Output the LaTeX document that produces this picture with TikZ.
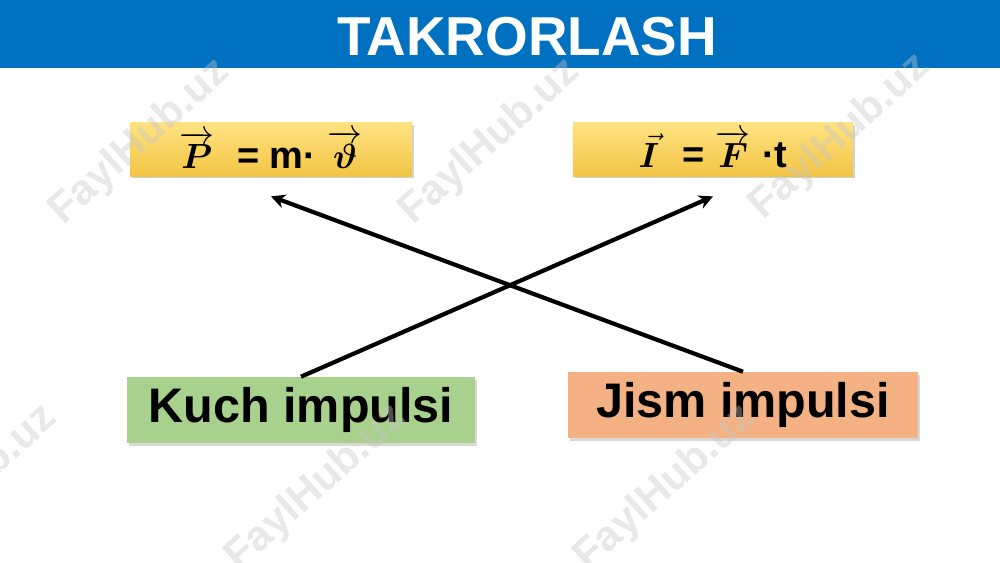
\documentclass[tikz,border=0pt]{standalone}
\usepackage{amsmath}
\usepackage{bm}
\usepackage{fontspec}
\newfontfamily\arialfont{Liberation Sans}
\usetikzlibrary{positioning, arrows.meta, shadows}

\definecolor{titleblue}{HTML}{0070C0}
\definecolor{kuchgreen}{HTML}{A9D18E}
\definecolor{jismorange}{HTML}{F4B183}
\definecolor{boxtop}{HTML}{FFE382}
\definecolor{boxbottom}{HTML}{F2C444}

\newcommand{\bsf}{\arialfont\bfseries}

\tikzset{
  formbox/.style={top color=boxtop, bottom color=boxbottom, minimum width=7.05cm, minimum height=1.33cm,
    font=\fontsize{27}{30}\selectfont,
    drop shadow={opacity=0.35, shadow xshift=1.5pt, shadow yshift=-1.5pt}},
  namebox/.style={minimum width=8.7cm, minimum height=1.65cm,
    font=\arialfont\bfseries\fontsize{34.5}{40}\selectfont,
    drop shadow={opacity=0.3, shadow xshift=1.5pt, shadow yshift=-2pt}},
  link/.style={->, line width=3pt},
  wmark/.style={rotate=42, font=\arialfont\bfseries\fontsize{30}{34}\selectfont, text=gray!45, text opacity=0.4}
}

\begin{document}
\begin{tikzpicture}[x=0.025cm, y=-0.025cm, >={Stealth[length=10pt, width=10pt]}]
    \useasboundingbox (0,0) rectangle (1000,562);
    \fill[white] (0,0) rectangle (1000,562);
    % ---------------- title bar
    \fill[titleblue] (0,0) rectangle (1000,68);
    \node[font=\arialfont\bfseries\fontsize{39}{44}\selectfont, text=white] (title) at (527,37) {TAKRORLASH};
    % ---------------- formulas
    \node[formbox] (formP) at (271,149.5) {$\overrightarrow{\bm{P}}$\ \ {\bsf = m·}\ $\overrightarrow{\bm{\vartheta}}$};
    \node[formbox, minimum width=7cm] (formI) at (713,149.5) {$\vec{\bm{I}}$\ \ {\bsf =}\ $\overrightarrow{\bm{F}}$\ {\bsf ·t}};
    % ---------------- names
    \node[namebox, fill=kuchgreen] (kuch) at (301,410) {Kuch impulsi};
    \node[namebox, fill=jismorange, minimum width=8.75cm] (jism) at (743,405) {Jism impulsi};
    % ---------------- crossing arrows
    \coordinate (tipP) at ([yshift=-0.5cm]formP.south);
    \coordinate (tipI) at ([yshift=-0.5cm]formI.south);
    \draw[link] (kuch.north) -- (tipI);
    \draw[link] (jism.north) -- (tipP);
    % ---------------- watermark
    \foreach \x/\y [count=\i] in {140/142, 490/142, 840/137, -33/488, 316/488, 665/488}
      \node[wmark] (wm\i) at (\x,\y) {FaylHub.uz};
\end{tikzpicture}
\end{document}
